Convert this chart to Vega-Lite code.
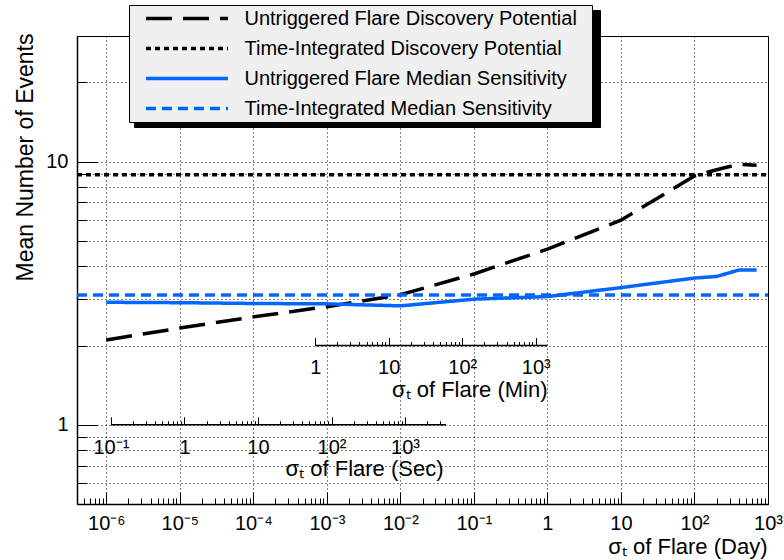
{
  "$schema": "https://vega.github.io/schema/vega-lite/v6.json",
  "width": 691,
  "height": 468,
  "autosize": {"type": "none"},
  "padding": {"left": 77, "top": 36, "right": 16, "bottom": 56},
  "background": "white",
  "datasets": {
    "curves": [
      {"series": "Untriggered Flare Discovery Potential", "day": 1e-6, "events": 2.10},
      {"series": "Untriggered Flare Discovery Potential", "day": 1e-5, "events": 2.33},
      {"series": "Untriggered Flare Discovery Potential", "day": 1e-4, "events": 2.57},
      {"series": "Untriggered Flare Discovery Potential", "day": 1e-3, "events": 2.81},
      {"series": "Untriggered Flare Discovery Potential", "day": 1e-2, "events": 3.12},
      {"series": "Untriggered Flare Discovery Potential", "day": 1e-1, "events": 3.74},
      {"series": "Untriggered Flare Discovery Potential", "day": 1, "events": 4.65},
      {"series": "Untriggered Flare Discovery Potential", "day": 10, "events": 5.99},
      {"series": "Untriggered Flare Discovery Potential", "day": 100, "events": 8.82},
      {"series": "Untriggered Flare Discovery Potential", "day": 200, "events": 9.31},
      {"series": "Untriggered Flare Discovery Potential", "day": 400, "events": 9.76},
      {"series": "Untriggered Flare Discovery Potential", "day": 700, "events": 9.68},
      {"series": "Untriggered Flare Median Sensitivity", "day": 1e-6, "events": 2.92},
      {"series": "Untriggered Flare Median Sensitivity", "day": 1e-5, "events": 2.91},
      {"series": "Untriggered Flare Median Sensitivity", "day": 1e-4, "events": 2.89},
      {"series": "Untriggered Flare Median Sensitivity", "day": 1e-3, "events": 2.88},
      {"series": "Untriggered Flare Median Sensitivity", "day": 1e-2, "events": 2.83},
      {"series": "Untriggered Flare Median Sensitivity", "day": 1e-1, "events": 3.00},
      {"series": "Untriggered Flare Median Sensitivity", "day": 1, "events": 3.07},
      {"series": "Untriggered Flare Median Sensitivity", "day": 10, "events": 3.32},
      {"series": "Untriggered Flare Median Sensitivity", "day": 100, "events": 3.61},
      {"series": "Untriggered Flare Median Sensitivity", "day": 200, "events": 3.66},
      {"series": "Untriggered Flare Median Sensitivity", "day": 400, "events": 3.87},
      {"series": "Untriggered Flare Median Sensitivity", "day": 700, "events": 3.87}
    ],
    "ti": [
      {"series": "Time-Integrated Discovery Potential", "day": 4e-7, "events": 8.92},
      {"series": "Time-Integrated Discovery Potential", "day": 1000, "events": 8.92},
      {"series": "Time-Integrated Median Sensitivity", "day": 4e-7, "events": 3.11},
      {"series": "Time-Integrated Median Sensitivity", "day": 1000, "events": 3.11}
    ],
    "sec_axis": [
      {"sec": 0.1, "events": 1},
      {"sec": 3600, "events": 1}
    ],
    "min_axis": [
      {"min": 1, "events": 2},
      {"min": 1440, "events": 2}
    ]
  },
  "resolve": {
    "scale": {"x": "independent"},
    "axis": {"x": "independent", "y": "independent"},
    "legend": {"color": "independent", "strokeDash": "independent"}
  },
  "layer": [
    {
      "data": {"name": "curves"},
      "mark": {"type": "line", "strokeWidth": 3.5},
      "encoding": {
        "x": {
          "field": "day", "type": "quantitative",
          "scale": {"type": "log", "domain": [4e-7, 1000], "nice": false},
          "axis": {
            "orient": "bottom",
            "values": [1e-6, 1e-5, 1e-4, 1e-3, 1e-2, 1e-1, 1, 10, 100, 1000],
            "labelExpr": "['10⁻⁶','10⁻⁵','10⁻⁴','10⁻³','10⁻²','10⁻¹','1','10','10²','10³'][round(log(datum.value)/LN10)+6]",
            "tickSize": -12,
            "labelPadding": 37.2,
            "labelBaseline": "alphabetic",
            "labelAlign": "center",
            "domain": true,
            "domainWidth": 1.5,
            "grid": true,
            "title": "σₜ of Flare (Day)",
            "titleX": 690,
            "titleY": 49.5,
            "titleAlign": "right",
            "titleBaseline": "alphabetic"
          }
        },
        "y": {
          "field": "events", "type": "quantitative",
          "scale": {"type": "log", "domain": [0.5, 30], "nice": false},
          "axis": {
            "orient": "left",
            "values": [1, 10],
            "labelExpr": "datum.value == 1 ? '1' : '10'",
            "tickSize": -20,
            "labelPadding": 29,
            "labelAlign": "right",
            "labelBaseline": "middle",
            "domain": true,
            "domainWidth": 1.5,
            "grid": false,
            "title": "Mean Number of Events",
            "titleFontSize": 23,
            "titleAngle": 270,
            "titleX": -45,
            "titleY": -3,
            "titleAlign": "right",
            "titleBaseline": "alphabetic"
          }
        },
        "color": {
          "field": "series", "type": "nominal",
          "scale": {
            "domain": ["Untriggered Flare Discovery Potential", "Time-Integrated Discovery Potential", "Untriggered Flare Median Sensitivity", "Time-Integrated Median Sensitivity"],
            "range": ["black", "black", "#0066ff", "#0066ff"]
          },
          "legend": {"orient": "none", "legendX": 52, "legendY": -31, "title": " ", "titleOrient": "right", "titlePadding": 15, "titleFontSize": 20, "padding": 0.5, "fillColor": "#f0f0f0", "strokeColor": "black", "symbolType": "stroke", "symbolSize": 6724, "symbolStrokeWidth": 3.5, "symbolOffset": 14.5, "labelOffset": 14.5, "labelFontSize": 20, "labelColor": "black", "labelLimit": 600, "clipHeight": 26, "rowPadding": 4, "zindex": 2}
        },
        "strokeDash": {
          "field": "series", "type": "nominal",
          "scale": {
            "domain": ["Untriggered Flare Discovery Potential", "Time-Integrated Discovery Potential", "Untriggered Flare Median Sensitivity", "Time-Integrated Median Sensitivity"],
            "range": [[26, 11], [5, 4], [1, 0], [10, 6]]
          },
          "legend": {"orient": "none", "legendX": 52, "legendY": -31, "title": " ", "titleOrient": "right", "titlePadding": 15, "titleFontSize": 20, "padding": 0.5, "fillColor": "#f0f0f0", "strokeColor": "black", "symbolType": "stroke", "symbolSize": 6724, "symbolStrokeWidth": 3.5, "symbolOffset": 14.5, "labelOffset": 14.5, "labelFontSize": 20, "labelColor": "black", "labelLimit": 600, "clipHeight": 26, "rowPadding": 4, "zindex": 2}
        }
      }
    },
    {
      "data": {"name": "ti"},
      "mark": {"type": "line", "strokeWidth": 3.5},
      "encoding": {
        "x": {
          "field": "day", "type": "quantitative",
          "scale": {"type": "log", "domain": [4e-7, 1000], "nice": false},
          "axis": {
            "orient": "bottom",
            "values": [4e-7, 5e-7, 6e-7, 7e-7, 8e-7, 9e-7, 2e-6, 3e-6, 4e-6, 5e-6, 6e-6, 7e-6, 8e-6, 9e-6, 2e-5, 3e-5, 4e-5, 5e-5, 6e-5, 7e-5, 8e-5, 9e-5, 2e-4, 3e-4, 4e-4, 5e-4, 6e-4, 7e-4, 8e-4, 9e-4, 2e-3, 3e-3, 4e-3, 5e-3, 6e-3, 7e-3, 8e-3, 9e-3, 2e-2, 3e-2, 4e-2, 5e-2, 6e-2, 7e-2, 8e-2, 9e-2, 0.2, 0.3, 0.4, 0.5, 0.6, 0.7, 0.8, 0.9, 2, 3, 4, 5, 6, 7, 8, 9, 20, 30, 40, 50, 60, 70, 80, 90, 200, 300, 400, 500, 600, 700, 800, 900],
            "tickSize": -6,
            "labels": false,
            "domain": false,
            "grid": false,
            "title": null
          }
        },
        "y": {
          "field": "events", "type": "quantitative",
          "scale": {"type": "log", "domain": [0.5, 30], "nice": false},
          "axis": {
            "orient": "left",
            "values": [0.6, 0.7, 0.8, 0.9, 1, 2, 3, 4, 5, 6, 7, 8, 9, 10, 20],
            "tickSize": -10,
            "labels": false,
            "domain": false,
            "grid": true,
            "title": null
          }
        },
        "color": {
          "field": "series", "type": "nominal",
          "scale": {
            "domain": ["Untriggered Flare Discovery Potential", "Time-Integrated Discovery Potential", "Untriggered Flare Median Sensitivity", "Time-Integrated Median Sensitivity"],
            "range": ["black", "black", "#0066ff", "#0066ff"]
          },
          "legend": {"orient": "none", "legendX": 57, "legendY": -26, "title": null, "padding": 0.5, "fillColor": "black", "strokeColor": "black", "symbolType": "stroke", "symbolSize": 212982, "symbolStrokeWidth": 3.5, "symbolOpacity": 0, "symbolOffset": 0, "labelOffset": 0, "labelExpr": "''", "labelFontSize": 20, "labelColor": "black", "clipHeight": 26, "rowPadding": 4, "zindex": 1}
        },
        "strokeDash": {
          "field": "series", "type": "nominal",
          "scale": {
            "domain": ["Untriggered Flare Discovery Potential", "Time-Integrated Discovery Potential", "Untriggered Flare Median Sensitivity", "Time-Integrated Median Sensitivity"],
            "range": [[26, 11], [5, 4], [1, 0], [10, 6]]
          },
          "legend": {"orient": "none", "legendX": 57, "legendY": -26, "title": null, "padding": 0.5, "fillColor": "black", "strokeColor": "black", "symbolType": "stroke", "symbolSize": 212982, "symbolStrokeWidth": 3.5, "symbolOpacity": 0, "symbolOffset": 0, "labelOffset": 0, "labelExpr": "''", "labelFontSize": 20, "labelColor": "black", "clipHeight": 26, "rowPadding": 4, "zindex": 1}
        }
      }
    },
    {
      "data": {"name": "sec_axis"},
      "mark": {"type": "line", "color": "black", "strokeWidth": 1.5},
      "encoding": {
        "x": {
          "field": "sec", "type": "quantitative",
          "scale": {"type": "log", "domain": [0.1, 3600], "range": [33.93, 368.93], "nice": false},
          "axis": {
            "orient": "bottom",
            "offset": -79.23,
            "values": [0.1, 0.2, 0.3, 0.4, 0.5, 0.6, 0.7, 0.8, 0.9, 1, 2, 3, 4, 5, 6, 7, 8, 9, 10, 20, 30, 40, 50, 60, 70, 80, 90, 100, 200, 300, 400, 500, 600, 700, 800, 900, 1000, 2000, 3000],
            "labelExpr": "datum.value == 0.1 ? '10⁻¹' : datum.value == 1 ? '1' : datum.value == 10 ? '10' : datum.value == 100 ? '10²' : datum.value == 1000 ? '10³' : ''",
            "tickSize": {"condition": {"test": "indexof([0.1, 1, 10, 100, 1000], datum.value) >= 0", "value": -8}, "value": -4},
            "labelPadding": 36.3,
            "labelBaseline": "alphabetic",
            "labelAlign": "center",
            "domain": false,
            "grid": false,
            "title": "σₜ of Flare (Sec)",
            "titleX": 366,
            "titleY": 51,
            "titleAlign": "right",
            "titleBaseline": "alphabetic"
          }
        },
        "y": {
          "field": "events", "type": "quantitative",
          "scale": {"type": "log", "domain": [0.5, 30], "nice": false},
          "axis": null
        }
      }
    },
    {
      "data": {"name": "min_axis"},
      "mark": {"type": "line", "color": "black", "strokeWidth": 1.5},
      "encoding": {
        "x": {
          "field": "min", "type": "quantitative",
          "scale": {"type": "log", "domain": [1, 1440], "range": [238.2, 470.41], "nice": false},
          "axis": {
            "orient": "bottom",
            "offset": -158.46,
            "values": [1, 2, 3, 4, 5, 6, 7, 8, 9, 10, 20, 30, 40, 50, 60, 70, 80, 90, 100, 200, 300, 400, 500, 600, 700, 800, 900, 1000],
            "labelExpr": "datum.value == 1 ? '1' : datum.value == 10 ? '10' : datum.value == 100 ? '10²' : datum.value == 1000 ? '10³' : ''",
            "tickSize": {"condition": {"test": "indexof([1, 10, 100, 1000], datum.value) >= 0", "value": -8}, "value": -4},
            "labelPadding": 36.3,
            "labelBaseline": "alphabetic",
            "labelAlign": "center",
            "domain": false,
            "grid": false,
            "title": "σₜ of Flare (Min)",
            "titleX": 470,
            "titleY": 51,
            "titleAlign": "right",
            "titleBaseline": "alphabetic"
          }
        },
        "y": {
          "field": "events", "type": "quantitative",
          "scale": {"type": "log", "domain": [0.5, 30], "nice": false},
          "axis": null
        }
      }
    }
  ],
  "config": {
    "font": "Liberation Sans",
    "view": {"stroke": "black", "strokeWidth": 1},
    "axis": {
      "labelFont": "Liberation Sans",
      "titleFont": "Liberation Sans",
      "labelFontSize": 20,
      "titleFontSize": 22,
      "titleFontWeight": "normal",
      "labelColor": "black",
      "titleColor": "black",
      "tickColor": "black",
      "tickWidth": 1,
      "domainColor": "black",
      "gridColor": "black",
      "gridDash": [1, 3],
      "gridWidth": 1,
      "gridOpacity": 1,
      "labelFlush": false,
      "labelOverlap": false,
      "labelBound": false
    },
    "legend": {
      "labelFont": "Liberation Sans",
      "titleFont": "Liberation Sans"
    }
  }
}
